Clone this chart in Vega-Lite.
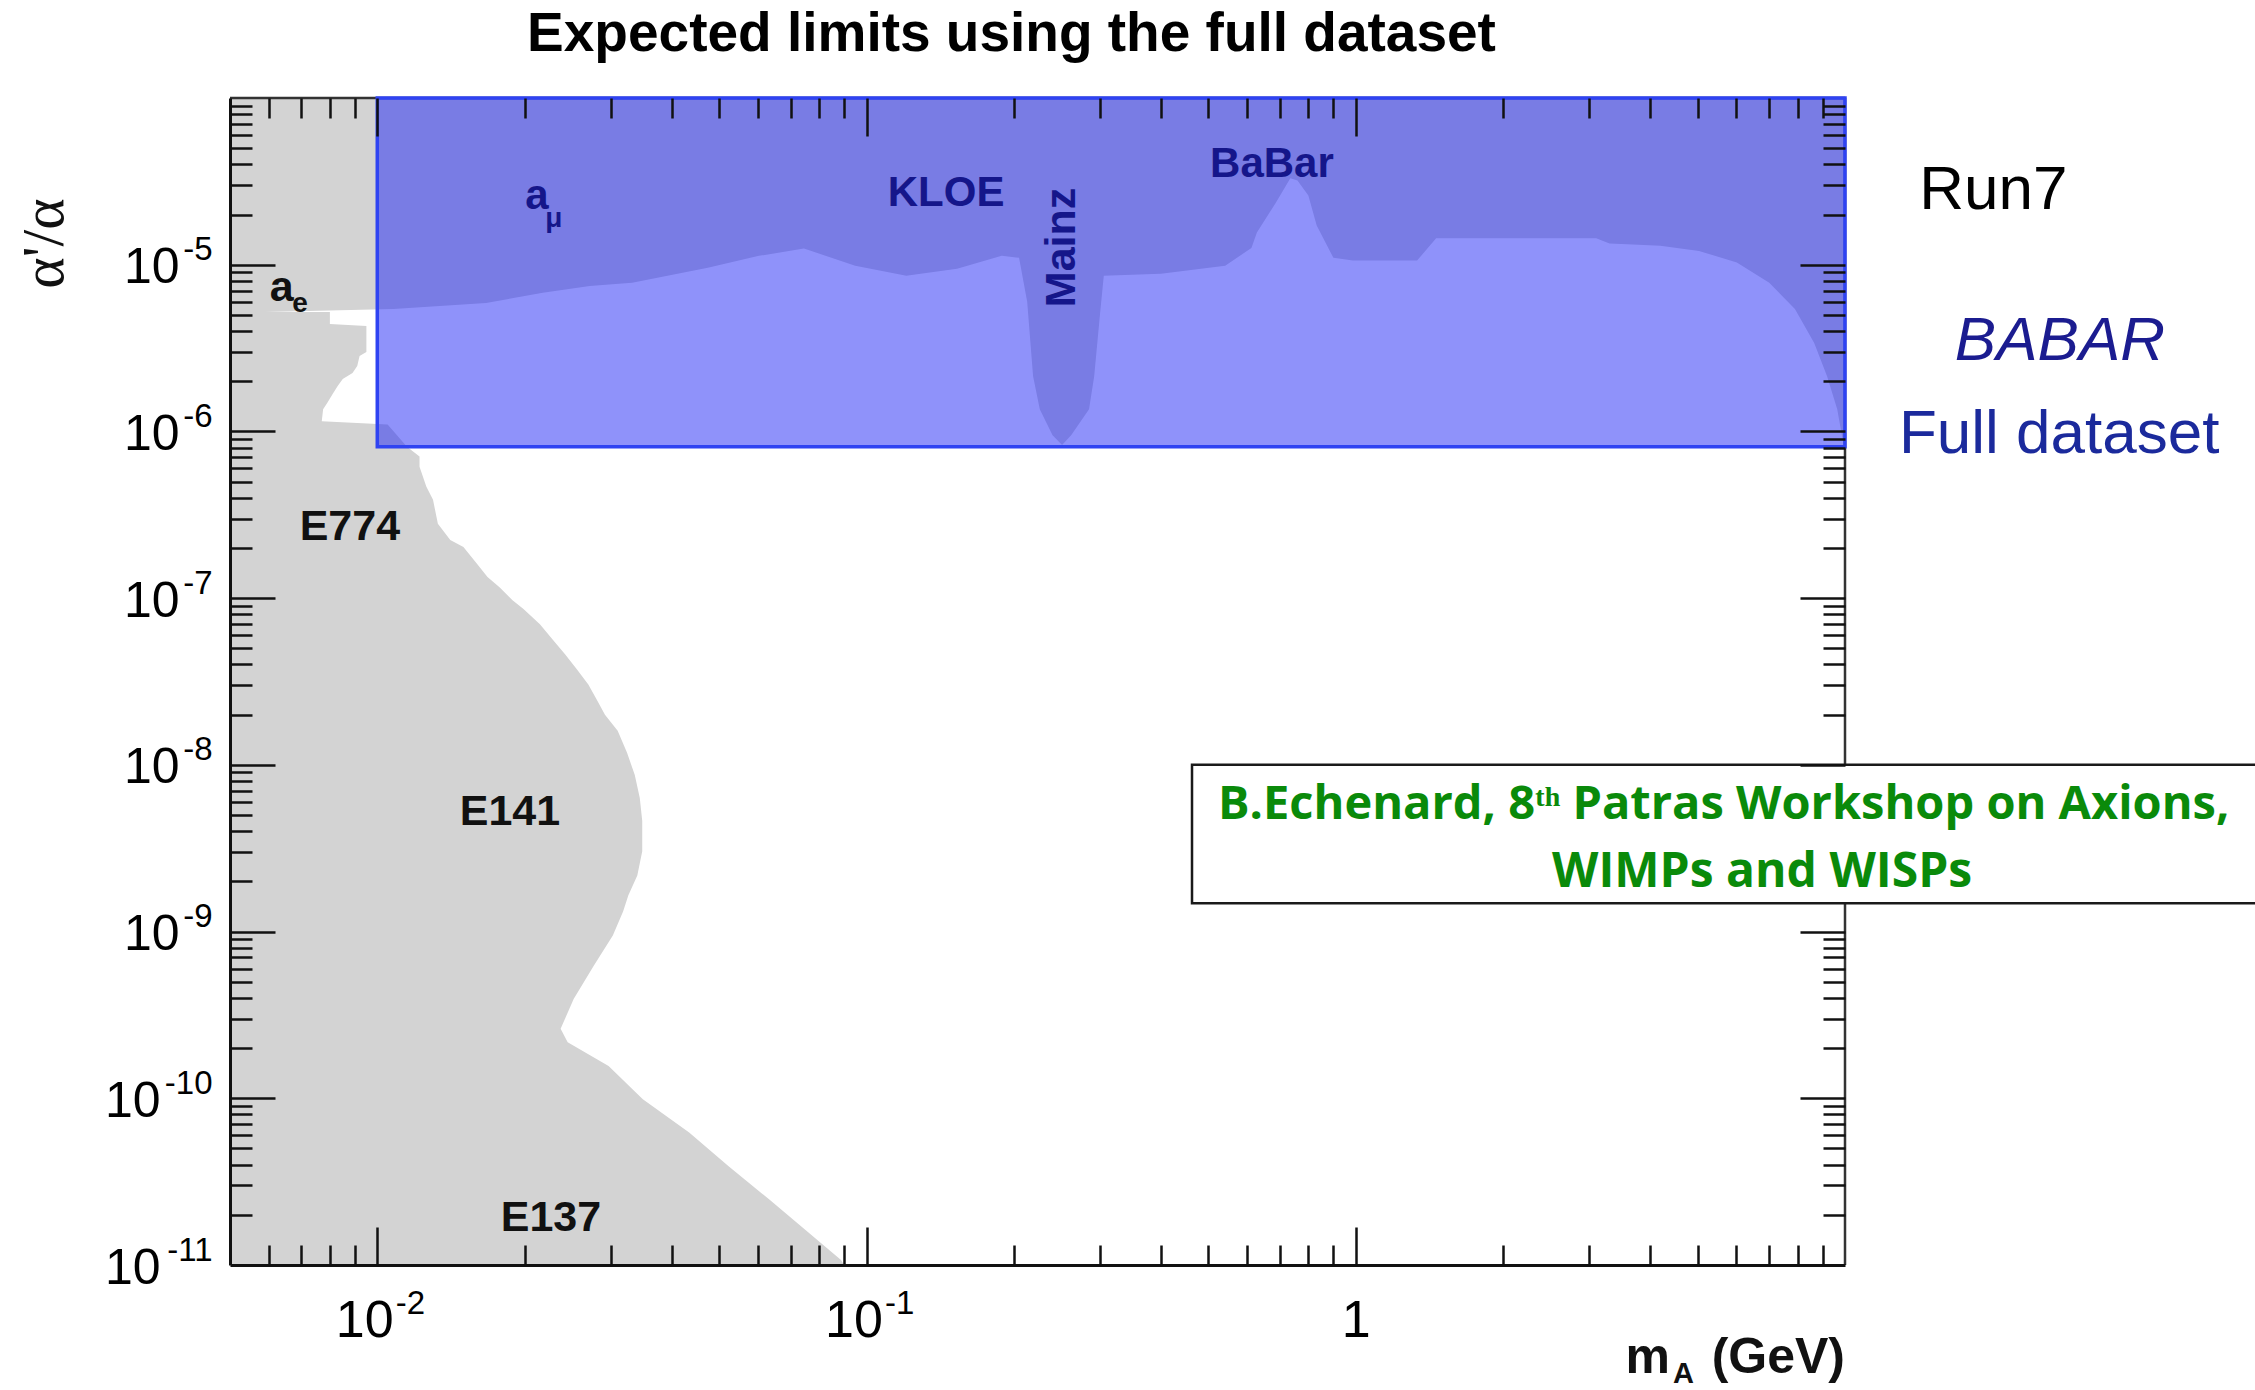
{
  "$schema": "https://vega.github.io/schema/vega-lite/v6.json",
  "width": 1615,
  "height": 1167,
  "autosize": {"type": "none"},
  "padding": {"left": 230, "top": 98, "right": 410, "bottom": 125},
  "background": "#ffffff",
  "config": {"view": {"stroke": null}, "font": "Liberation Sans", "axis": {"grid": false}},
  "title": {
    "text": "Expected limits using the full dataset",
    "font": "Liberation Sans",
    "fontSize": 55,
    "fontWeight": "bold",
    "color": "#000000",
    "anchor": "middle",
    "dx": -26,
    "dy": 53,
    "baseline": "alphabetic",
    "offset": 43
  },
  "datasets": {
    "beamdump": [
      {"alpha": 1.0e-11, "m_edge": 0.090},
      {"alpha": 1.07e-11, "m_edge": 0.0887},
      {"alpha": 1.56e-11, "m_edge": 0.0762},
      {"alpha": 2.47e-11, "m_edge": 0.0633},
      {"alpha": 3.89e-11, "m_edge": 0.0524},
      {"alpha": 6.24e-11, "m_edge": 0.0434},
      {"alpha": 9.86e-11, "m_edge": 0.0349},
      {"alpha": 1.56e-10, "m_edge": 0.0297},
      {"alpha": 2.17e-10, "m_edge": 0.0245},
      {"alpha": 2.61e-10, "m_edge": 0.0237},
      {"alpha": 3.94e-10, "m_edge": 0.0252},
      {"alpha": 6.24e-10, "m_edge": 0.0277},
      {"alpha": 9.46e-10, "m_edge": 0.0303},
      {"alpha": 1.32e-9, "m_edge": 0.0318},
      {"alpha": 1.65e-9, "m_edge": 0.0326},
      {"alpha": 2.17e-9, "m_edge": 0.0340},
      {"alpha": 3.03e-9, "m_edge": 0.0348},
      {"alpha": 4.6e-9, "m_edge": 0.0348},
      {"alpha": 6.33e-9, "m_edge": 0.0344},
      {"alpha": 8.7e-9, "m_edge": 0.0336},
      {"alpha": 1.18e-8, "m_edge": 0.0324},
      {"alpha": 1.6e-8, "m_edge": 0.0310},
      {"alpha": 2.0e-8, "m_edge": 0.0292},
      {"alpha": 2.46e-8, "m_edge": 0.0281},
      {"alpha": 3.03e-8, "m_edge": 0.0270},
      {"alpha": 3.73e-8, "m_edge": 0.0256},
      {"alpha": 4.6e-8, "m_edge": 0.0242},
      {"alpha": 5.66e-8, "m_edge": 0.0228},
      {"alpha": 6.97e-8, "m_edge": 0.0215},
      {"alpha": 8.6e-8, "m_edge": 0.0199},
      {"alpha": 9.7e-8, "m_edge": 0.0189},
      {"alpha": 1.16e-7, "m_edge": 0.0178},
      {"alpha": 1.34e-7, "m_edge": 0.0168},
      {"alpha": 1.6e-7, "m_edge": 0.0160},
      {"alpha": 2.03e-7, "m_edge": 0.0150},
      {"alpha": 2.23e-7, "m_edge": 0.0141},
      {"alpha": 2.79e-7, "m_edge": 0.0133},
      {"alpha": 3.89e-7, "m_edge": 0.0130},
      {"alpha": 4.66e-7, "m_edge": 0.0126},
      {"alpha": 6.15e-7, "m_edge": 0.0122},
      {"alpha": 7.07e-7, "m_edge": 0.0122},
      {"alpha": 8.1e-7, "m_edge": 0.0115},
      {"alpha": 1.1e-6, "m_edge": 0.0105},
      {"alpha": 1.15e-6, "m_edge": 0.0077},
      {"alpha": 1.36e-6, "m_edge": 0.00775},
      {"alpha": 1.48e-6, "m_edge": 0.0079},
      {"alpha": 1.67e-6, "m_edge": 0.0081},
      {"alpha": 1.87e-6, "m_edge": 0.0083},
      {"alpha": 2.06e-6, "m_edge": 0.0085},
      {"alpha": 2.24e-6, "m_edge": 0.0089},
      {"alpha": 2.47e-6, "m_edge": 0.0091},
      {"alpha": 2.83e-6, "m_edge": 0.0092},
      {"alpha": 3.0e-6, "m_edge": 0.0095},
      {"alpha": 4.29e-6, "m_edge": 0.0095},
      {"alpha": 4.41e-6, "m_edge": 0.0080},
      {"alpha": 5.2e-6, "m_edge": 0.0080}
    ],
    "upper": [
      {"m": 0.005, "alpha": 5.15e-6},
      {"m": 0.0108, "alpha": 5.43e-6},
      {"m": 0.0167, "alpha": 5.9e-6},
      {"m": 0.0218, "alpha": 6.78e-6},
      {"m": 0.0272, "alpha": 7.46e-6},
      {"m": 0.0332, "alpha": 7.8e-6},
      {"m": 0.0474, "alpha": 9.6e-6},
      {"m": 0.0603, "alpha": 1.13e-5},
      {"m": 0.0745, "alpha": 1.25e-5},
      {"m": 0.0948, "alpha": 9.86e-6},
      {"m": 0.1206, "alpha": 8.6e-6},
      {"m": 0.1532, "alpha": 9.46e-6},
      {"m": 0.189, "alpha": 1.13e-5},
      {"m": 0.205, "alpha": 1.1e-5},
      {"m": 0.213, "alpha": 6.0e-6},
      {"m": 0.219, "alpha": 2.14e-6},
      {"m": 0.226, "alpha": 1.36e-6},
      {"m": 0.240, "alpha": 9.5e-7},
      {"m": 0.251, "alpha": 8.3e-7},
      {"m": 0.262, "alpha": 9.5e-7},
      {"m": 0.285, "alpha": 1.36e-6},
      {"m": 0.292, "alpha": 2.14e-6},
      {"m": 0.300, "alpha": 5.0e-6},
      {"m": 0.3055, "alpha": 8.6e-6},
      {"m": 0.400, "alpha": 8.83e-6},
      {"m": 0.541, "alpha": 9.86e-6},
      {"m": 0.612, "alpha": 1.26e-5},
      {"m": 0.628, "alpha": 1.56e-5},
      {"m": 0.687, "alpha": 2.36e-5},
      {"m": 0.735, "alpha": 3.3e-5},
      {"m": 0.76, "alpha": 3.2e-5},
      {"m": 0.80, "alpha": 2.6e-5},
      {"m": 0.832, "alpha": 1.72e-5},
      {"m": 0.900, "alpha": 1.1e-5},
      {"m": 0.986, "alpha": 1.06e-5},
      {"m": 1.11, "alpha": 1.06e-5},
      {"m": 1.335, "alpha": 1.06e-5},
      {"m": 1.46, "alpha": 1.44e-5},
      {"m": 1.80, "alpha": 1.44e-5},
      {"m": 2.16, "alpha": 1.44e-5},
      {"m": 3.10, "alpha": 1.44e-5},
      {"m": 3.30, "alpha": 1.34e-5},
      {"m": 4.19, "alpha": 1.3e-5},
      {"m": 5.03, "alpha": 1.21e-5},
      {"m": 6.01, "alpha": 1.03e-5},
      {"m": 7.0, "alpha": 7.8e-6},
      {"m": 7.9, "alpha": 5.43e-6},
      {"m": 8.65, "alpha": 3.39e-6},
      {"m": 9.19, "alpha": 2.14e-6},
      {"m": 9.64, "alpha": 1.36e-6},
      {"m": 9.92, "alpha": 8.5e-7},
      {"m": 10.0, "alpha": 8.1e-7}
    ],
    "reach": [
      {"region": "BaBar full dataset", "m_lo": 0.01, "m_hi": 10, "a_lo": 8.1e-7, "a_hi": 1e-4}
    ],
    "credit": [
      {"m_lo": 0.4627, "m_hi": 100, "a_lo": 1.48e-9, "a_hi": 1.0e-8}
    ],
    "labels": [
      {"text": "a", "m": 0.00638, "alpha": 7.3e-6, "kind": "bd"},
      {"text": "e", "m": 0.00695, "alpha": 5.85e-6, "kind": "bdsub"},
      {"text": "E774", "m": 0.00879, "alpha": 2.67e-7, "kind": "bd"},
      {"text": "E141", "m": 0.01867, "alpha": 5.22e-9, "kind": "bd"},
      {"text": "E137", "m": 0.02265, "alpha": 1.92e-11, "kind": "bd"},
      {"text": "a", "m": 0.0212, "alpha": 2.57e-5, "kind": "blue"},
      {"text": "μ", "m": 0.02296, "alpha": 1.87e-5, "kind": "bluesub"},
      {"text": "KLOE", "m": 0.1454, "alpha": 2.68e-5, "kind": "blue"},
      {"text": "BaBar", "m": 0.674, "alpha": 4.01e-5, "kind": "blue"},
      {"text": "Mainz", "m": 0.251, "alpha": 1.27e-5, "kind": "vertical"},
      {"text": "Run7", "m": 20.1, "alpha": 2.15e-5, "kind": "run"},
      {"text": "BABAR", "m": 27.5, "alpha": 2.69e-6, "kind": "experiment"},
      {"text": "Full dataset", "m": 27.4, "alpha": 7.43e-7, "kind": "sample"},
      {"text": "m", "m": 4.39, "alpha": 2.25e-12, "kind": "xtitle"},
      {"text": "(GeV)", "m": 10, "alpha": 2.25e-12, "kind": "xtitle"},
      {"text": "A", "m": 4.91, "alpha": 1.95e-12, "kind": "xtitlesub"},
      {"text": "B.Echenard, 8ᵗʰ Patras Workshop on Axions,", "m": 0.523, "alpha": 4.74e-9, "kind": "credit1"},
      {"text": "WIMPs and WISPs", "m": 6.77, "alpha": 1.85e-9, "kind": "credit2"}
    ]
  },
  "resolve": {"axis": {"x": "independent", "y": "independent"}},
  "layer": [
    {
      "data": {"name": "beamdump"},
      "mark": {"type": "area", "orient": "horizontal", "color": "#d3d3d3", "opacity": 1},
      "encoding": {
        "y": {
          "field": "alpha", "type": "quantitative",
          "scale": {"type": "log", "domain": [1e-11, 1e-4], "nice": false},
          "axis": {
            "orient": "left", "values": [1e-11, 1e-10, 1e-9, 1e-8, 1e-7, 1e-6, 1e-5],
            "labelExpr": "'10'",
            "labelFont": "Liberation Sans", "labelFontSize": 50, "labelColor": "#000000",
            "labelPadding": {"condition": {"test": "datum.value < 5e-10", "value": 70}, "value": 51},
            "labelOffset": 3, "labelOverlap": false, "labelFlush": false,
            "ticks": false, "domain": true, "domainColor": "#111111", "domainWidth": 3,
            "title": "α'/α", "titleFont": "Liberation Serif", "titleFontSize": 60, "titleFontWeight": "normal",
            "titleColor": "#111111", "titleAngle": 270, "titleX": -186, "titleY": 145,
            "titleAlign": "center", "titleBaseline": "middle", "zindex": 1
          }
        },
        "x": {
          "field": "m_edge", "type": "quantitative",
          "scale": {"type": "log", "domain": [0.005, 10], "nice": false},
          "axis": {
            "orient": "bottom", "values": [0.01, 0.1, 1],
            "labelExpr": "datum.value >= 0.5 ? '1' : '10'",
            "labelFont": "Liberation Sans", "labelFontSize": 52, "labelColor": "#000000",
            "labelPadding": 30,
            "labelOffset": {"condition": {"test": "datum.value >= 0.5", "value": 0}, "value": -13},
            "labelOverlap": false, "labelFlush": false,
            "ticks": false, "domain": true, "domainColor": "#111111", "domainWidth": 3,
            "title": null, "zindex": 1
          }
        },
        "x2": {"datum": 0.005}
      }
    },
    {
      "data": {"name": "upper"},
      "mark": {"type": "area", "color": "#d3d3d3", "opacity": 1},
      "encoding": {
        "x": {
          "field": "m", "type": "quantitative",
          "scale": {"type": "log", "domain": [0.005, 10], "nice": false},
          "axis": {"orient": "bottom", "values": [0.01, 0.1, 1], "labels": false, "domain": false,
                   "ticks": true, "tickSize": -38, "tickWidth": 2.5, "tickColor": "#111111", "title": null, "zindex": 1}
        },
        "y": {
          "field": "alpha", "type": "quantitative",
          "scale": {"type": "log", "domain": [1e-11, 1e-4], "nice": false},
          "axis": {"orient": "left", "values": [1e-10, 1e-9, 1e-8, 1e-7, 1e-6, 1e-5], "labels": false, "domain": false,
                   "ticks": true, "tickSize": -45, "tickWidth": 2.5, "tickColor": "#111111", "title": null, "zindex": 1}
        },
        "y2": {"datum": 1e-4}
      }
    },
    {
      "data": {"values": [{}]},
      "mark": {"type": "rule", "color": "#333333", "strokeWidth": 2.5},
      "encoding": {
        "x": {"datum": 10, "type": "quantitative", "scale": {"type": "log", "domain": [0.005, 10], "nice": false}, "axis": null},
        "y": {"datum": 1e-11, "type": "quantitative", "scale": {"type": "log", "domain": [1e-11, 1e-4], "nice": false}, "axis": null},
        "y2": {"datum": 1e-4}
      }
    },
    {
      "data": {"values": [{}]},
      "mark": {"type": "rule", "color": "#333333", "strokeWidth": 2.5},
      "encoding": {
        "x": {"datum": 0.005, "type": "quantitative", "scale": {"type": "log", "domain": [0.005, 10], "nice": false}, "axis": null},
        "x2": {"datum": 10},
        "y": {"datum": 1e-4, "type": "quantitative", "scale": {"type": "log", "domain": [1e-11, 1e-4], "nice": false}, "axis": null}
      }
    },
    {
      "data": {"name": "reach"},
      "mark": {"type": "rect", "fill": "#2026f5", "fillOpacity": 0.5, "stroke": "#2f43f2", "strokeWidth": 3.5},
      "encoding": {
        "x": {
          "field": "m_lo", "type": "quantitative",
          "scale": {"type": "log", "domain": [0.005, 10], "nice": false},
          "axis": {"orient": "bottom",
                   "values": [0.006, 0.007, 0.008, 0.009, 0.02, 0.03, 0.04, 0.05, 0.06, 0.07, 0.08, 0.09, 0.2, 0.3, 0.4, 0.5, 0.6, 0.7, 0.8, 0.9, 2, 3, 4, 5, 6, 7, 8, 9],
                   "labels": false, "domain": false, "ticks": true, "tickSize": -20, "tickWidth": 2.5,
                   "tickColor": "#111111", "title": null, "zindex": 1}
        },
        "x2": {"field": "m_hi"},
        "y": {
          "field": "a_lo", "type": "quantitative",
          "scale": {"type": "log", "domain": [1e-11, 1e-4], "nice": false},
          "axis": {"orient": "left",
                   "values": [2e-11, 3e-11, 4e-11, 5e-11, 6e-11, 7e-11, 8e-11, 9e-11, 2e-10, 3e-10, 4e-10, 5e-10, 6e-10, 7e-10, 8e-10, 9e-10, 2e-9, 3e-9, 4e-9, 5e-9, 6e-9, 7e-9, 8e-9, 9e-9, 2e-8, 3e-8, 4e-8, 5e-8, 6e-8, 7e-8, 8e-8, 9e-8, 2e-7, 3e-7, 4e-7, 5e-7, 6e-7, 7e-7, 8e-7, 9e-7, 2e-6, 3e-6, 4e-6, 5e-6, 6e-6, 7e-6, 8e-6, 9e-6, 2e-5, 3e-5, 4e-5, 5e-5, 6e-5, 7e-5, 8e-5, 9e-5],
                   "labels": false, "domain": false, "ticks": true, "tickSize": -22, "tickWidth": 2.5,
                   "tickColor": "#111111", "title": null, "zindex": 1}
        },
        "y2": {"field": "a_hi"}
      }
    },
    {
      "data": {"name": "labels"},
      "transform": [{"filter": "datum.kind == 'bd'"}],
      "mark": {"type": "text", "font": "Liberation Sans", "fontSize": 43, "fontWeight": "bold", "color": "#111111", "align": "center", "baseline": "middle"},
      "encoding": {
        "x": {
          "field": "m", "type": "quantitative",
          "scale": {"type": "log", "domain": [0.005, 10], "nice": false},
          "axis": {"orient": "top", "values": [0.01, 0.1, 1], "labels": false, "domain": false,
                   "ticks": true, "tickSize": -38, "tickWidth": 2.5, "tickColor": "#111111", "title": null, "zindex": 1}
        },
        "y": {
          "field": "alpha", "type": "quantitative",
          "scale": {"type": "log", "domain": [1e-11, 1e-4], "nice": false},
          "axis": {"orient": "right", "values": [1e-10, 1e-9, 1e-8, 1e-7, 1e-6, 1e-5], "labels": false, "domain": false,
                   "ticks": true, "tickSize": -45, "tickWidth": 2.5, "tickColor": "#111111", "title": null, "zindex": 1}
        },
        "text": {"field": "text"}
      }
    },
    {
      "data": {"name": "labels"},
      "transform": [{"filter": "datum.kind == 'bdsub'"}],
      "mark": {"type": "text", "font": "Liberation Sans", "fontSize": 28, "fontWeight": "bold", "color": "#111111", "align": "center", "baseline": "middle"},
      "encoding": {
        "x": {
          "field": "m", "type": "quantitative",
          "scale": {"type": "log", "domain": [0.005, 10], "nice": false},
          "axis": {"orient": "top",
                   "values": [0.006, 0.007, 0.008, 0.009, 0.02, 0.03, 0.04, 0.05, 0.06, 0.07, 0.08, 0.09, 0.2, 0.3, 0.4, 0.5, 0.6, 0.7, 0.8, 0.9, 2, 3, 4, 5, 6, 7, 8, 9],
                   "labels": false, "domain": false, "ticks": true, "tickSize": -20, "tickWidth": 2.5,
                   "tickColor": "#111111", "title": null, "zindex": 1}
        },
        "y": {
          "field": "alpha", "type": "quantitative",
          "scale": {"type": "log", "domain": [1e-11, 1e-4], "nice": false},
          "axis": {"orient": "right",
                   "values": [2e-11, 3e-11, 4e-11, 5e-11, 6e-11, 7e-11, 8e-11, 9e-11, 2e-10, 3e-10, 4e-10, 5e-10, 6e-10, 7e-10, 8e-10, 9e-10, 2e-8, 3e-8, 4e-8, 5e-8, 6e-8, 7e-8, 8e-8, 9e-8, 2e-7, 3e-7, 4e-7, 5e-7, 6e-7, 7e-7, 8e-7, 9e-7, 2e-6, 3e-6, 4e-6, 5e-6, 6e-6, 7e-6, 8e-6, 9e-6, 2e-5, 3e-5, 4e-5, 5e-5, 6e-5, 7e-5, 8e-5, 9e-5],
                   "labels": false, "domain": false, "ticks": true, "tickSize": -22, "tickWidth": 2.5,
                   "tickColor": "#111111", "title": null, "zindex": 1}
        },
        "text": {"field": "text"}
      }
    },
    {
      "data": {"name": "labels"},
      "transform": [{"filter": "datum.kind == 'blue'"}],
      "mark": {"type": "text", "font": "Liberation Sans", "fontSize": 42, "fontWeight": "bold", "color": "#15168a", "align": "center", "baseline": "middle"},
      "encoding": {
        "x": {
          "field": "m", "type": "quantitative",
          "scale": {"type": "log", "domain": [0.005, 10], "nice": false},
          "axis": {"orient": "bottom", "values": [0.01, 0.1],
                   "labelExpr": "datum.value >= 0.05 ? '-1' : '-2'",
                   "labelFont": "Liberation Sans", "labelFontSize": 33, "labelColor": "#000000",
                   "labelAlign": "left", "labelOffset": 18, "labelPadding": 22,
                   "labelOverlap": false, "labelFlush": false,
                   "ticks": false, "domain": false, "title": null, "zindex": 1}
        },
        "y": {
          "field": "alpha", "type": "quantitative",
          "scale": {"type": "log", "domain": [1e-11, 1e-4], "nice": false},
          "axis": {"orient": "left", "values": [1e-11, 1e-10, 1e-9, 1e-8, 1e-7, 1e-6, 1e-5],
                   "labelExpr": "'-' + round(-log(datum.value)/LN10)",
                   "labelFont": "Liberation Sans", "labelFontSize": 33, "labelColor": "#000000",
                   "labelPadding": 18, "labelOffset": -15,
                   "labelOverlap": false, "labelFlush": false,
                   "ticks": false, "domain": false, "title": null, "zindex": 1}
        },
        "text": {"field": "text"}
      }
    },
    {
      "data": {"name": "labels"},
      "transform": [{"filter": "datum.kind == 'bluesub'"}],
      "mark": {"type": "text", "font": "Liberation Sans", "fontSize": 28, "fontWeight": "bold", "color": "#15168a", "align": "center", "baseline": "middle"},
      "encoding": {
        "x": {"field": "m", "type": "quantitative", "scale": {"type": "log", "domain": [0.005, 10], "nice": false}, "axis": null},
        "y": {"field": "alpha", "type": "quantitative", "scale": {"type": "log", "domain": [1e-11, 1e-4], "nice": false}, "axis": null},
        "text": {"field": "text"}
      }
    },
    {
      "data": {"name": "labels"},
      "transform": [{"filter": "datum.kind == 'vertical'"}],
      "mark": {"type": "text", "font": "Liberation Sans", "fontSize": 43, "fontWeight": "bold", "color": "#15168a", "align": "center", "baseline": "middle", "angle": 270},
      "encoding": {
        "x": {"field": "m", "type": "quantitative", "scale": {"type": "log", "domain": [0.005, 10], "nice": false}, "axis": null},
        "y": {"field": "alpha", "type": "quantitative", "scale": {"type": "log", "domain": [1e-11, 1e-4], "nice": false}, "axis": null},
        "text": {"field": "text"}
      }
    },
    {
      "data": {"name": "labels"},
      "transform": [{"filter": "datum.kind == 'run'"}],
      "mark": {"type": "text", "font": "Liberation Sans", "fontSize": 62, "color": "#000000", "align": "center", "baseline": "alphabetic"},
      "encoding": {
        "x": {"field": "m", "type": "quantitative", "scale": {"type": "log", "domain": [0.005, 10], "nice": false}, "axis": null},
        "y": {"field": "alpha", "type": "quantitative", "scale": {"type": "log", "domain": [1e-11, 1e-4], "nice": false}, "axis": null},
        "text": {"field": "text"}
      }
    },
    {
      "data": {"name": "labels"},
      "transform": [{"filter": "datum.kind == 'experiment'"}],
      "mark": {"type": "text", "font": "Liberation Sans", "fontSize": 62, "fontStyle": "italic", "color": "#1b1c90", "align": "center", "baseline": "alphabetic"},
      "encoding": {
        "x": {"field": "m", "type": "quantitative", "scale": {"type": "log", "domain": [0.005, 10], "nice": false}, "axis": null},
        "y": {"field": "alpha", "type": "quantitative", "scale": {"type": "log", "domain": [1e-11, 1e-4], "nice": false}, "axis": null},
        "text": {"field": "text"}
      }
    },
    {
      "data": {"name": "labels"},
      "transform": [{"filter": "datum.kind == 'sample'"}],
      "mark": {"type": "text", "font": "Liberation Sans", "fontSize": 62, "color": "#1b2a9c", "align": "center", "baseline": "alphabetic"},
      "encoding": {
        "x": {"field": "m", "type": "quantitative", "scale": {"type": "log", "domain": [0.005, 10], "nice": false}, "axis": null},
        "y": {"field": "alpha", "type": "quantitative", "scale": {"type": "log", "domain": [1e-11, 1e-4], "nice": false}, "axis": null},
        "text": {"field": "text"}
      }
    },
    {
      "data": {"name": "labels"},
      "transform": [{"filter": "datum.kind == 'xtitle'"}],
      "mark": {"type": "text", "font": "Liberation Sans", "fontSize": 50, "fontWeight": "bold", "color": "#111111", "align": "right", "baseline": "alphabetic"},
      "encoding": {
        "x": {"field": "m", "type": "quantitative", "scale": {"type": "log", "domain": [0.005, 10], "nice": false}, "axis": null},
        "y": {"field": "alpha", "type": "quantitative", "scale": {"type": "log", "domain": [1e-11, 1e-4], "nice": false}, "axis": null},
        "text": {"field": "text"}
      }
    },
    {
      "data": {"name": "labels"},
      "transform": [{"filter": "datum.kind == 'xtitlesub'"}],
      "mark": {"type": "text", "font": "Liberation Sans", "fontSize": 29, "fontWeight": "bold", "color": "#111111", "align": "right", "baseline": "alphabetic"},
      "encoding": {
        "x": {"field": "m", "type": "quantitative", "scale": {"type": "log", "domain": [0.005, 10], "nice": false}, "axis": null},
        "y": {"field": "alpha", "type": "quantitative", "scale": {"type": "log", "domain": [1e-11, 1e-4], "nice": false}, "axis": null},
        "text": {"field": "text"}
      }
    },
    {
      "data": {"name": "credit"},
      "mark": {"type": "rect", "fill": "#ffffff", "stroke": "#1a1a1a", "strokeWidth": 2.5},
      "encoding": {
        "x": {"field": "m_lo", "type": "quantitative", "scale": {"type": "log", "domain": [0.005, 10], "nice": false}, "axis": null},
        "x2": {"field": "m_hi"},
        "y": {"field": "a_lo", "type": "quantitative", "scale": {"type": "log", "domain": [1e-11, 1e-4], "nice": false}, "axis": null},
        "y2": {"field": "a_hi"}
      }
    },
    {
      "data": {"name": "labels"},
      "transform": [{"filter": "datum.kind == 'credit1'"}],
      "mark": {"type": "text", "font": "Open Sans", "fontSize": 47, "fontWeight": "bold", "color": "#0a8a0a", "align": "left", "baseline": "alphabetic"},
      "encoding": {
        "x": {"field": "m", "type": "quantitative", "scale": {"type": "log", "domain": [0.005, 10], "nice": false}, "axis": null},
        "y": {"field": "alpha", "type": "quantitative", "scale": {"type": "log", "domain": [1e-11, 1e-4], "nice": false}, "axis": null},
        "text": {"field": "text"}
      }
    },
    {
      "data": {"name": "labels"},
      "transform": [{"filter": "datum.kind == 'credit2'"}],
      "mark": {"type": "text", "font": "Open Sans", "fontSize": 48, "fontWeight": "bold", "color": "#0a8a0a", "align": "center", "baseline": "alphabetic"},
      "encoding": {
        "x": {"field": "m", "type": "quantitative", "scale": {"type": "log", "domain": [0.005, 10], "nice": false}, "axis": null},
        "y": {"field": "alpha", "type": "quantitative", "scale": {"type": "log", "domain": [1e-11, 1e-4], "nice": false}, "axis": null},
        "text": {"field": "text"}
      }
    }
  ]
}
